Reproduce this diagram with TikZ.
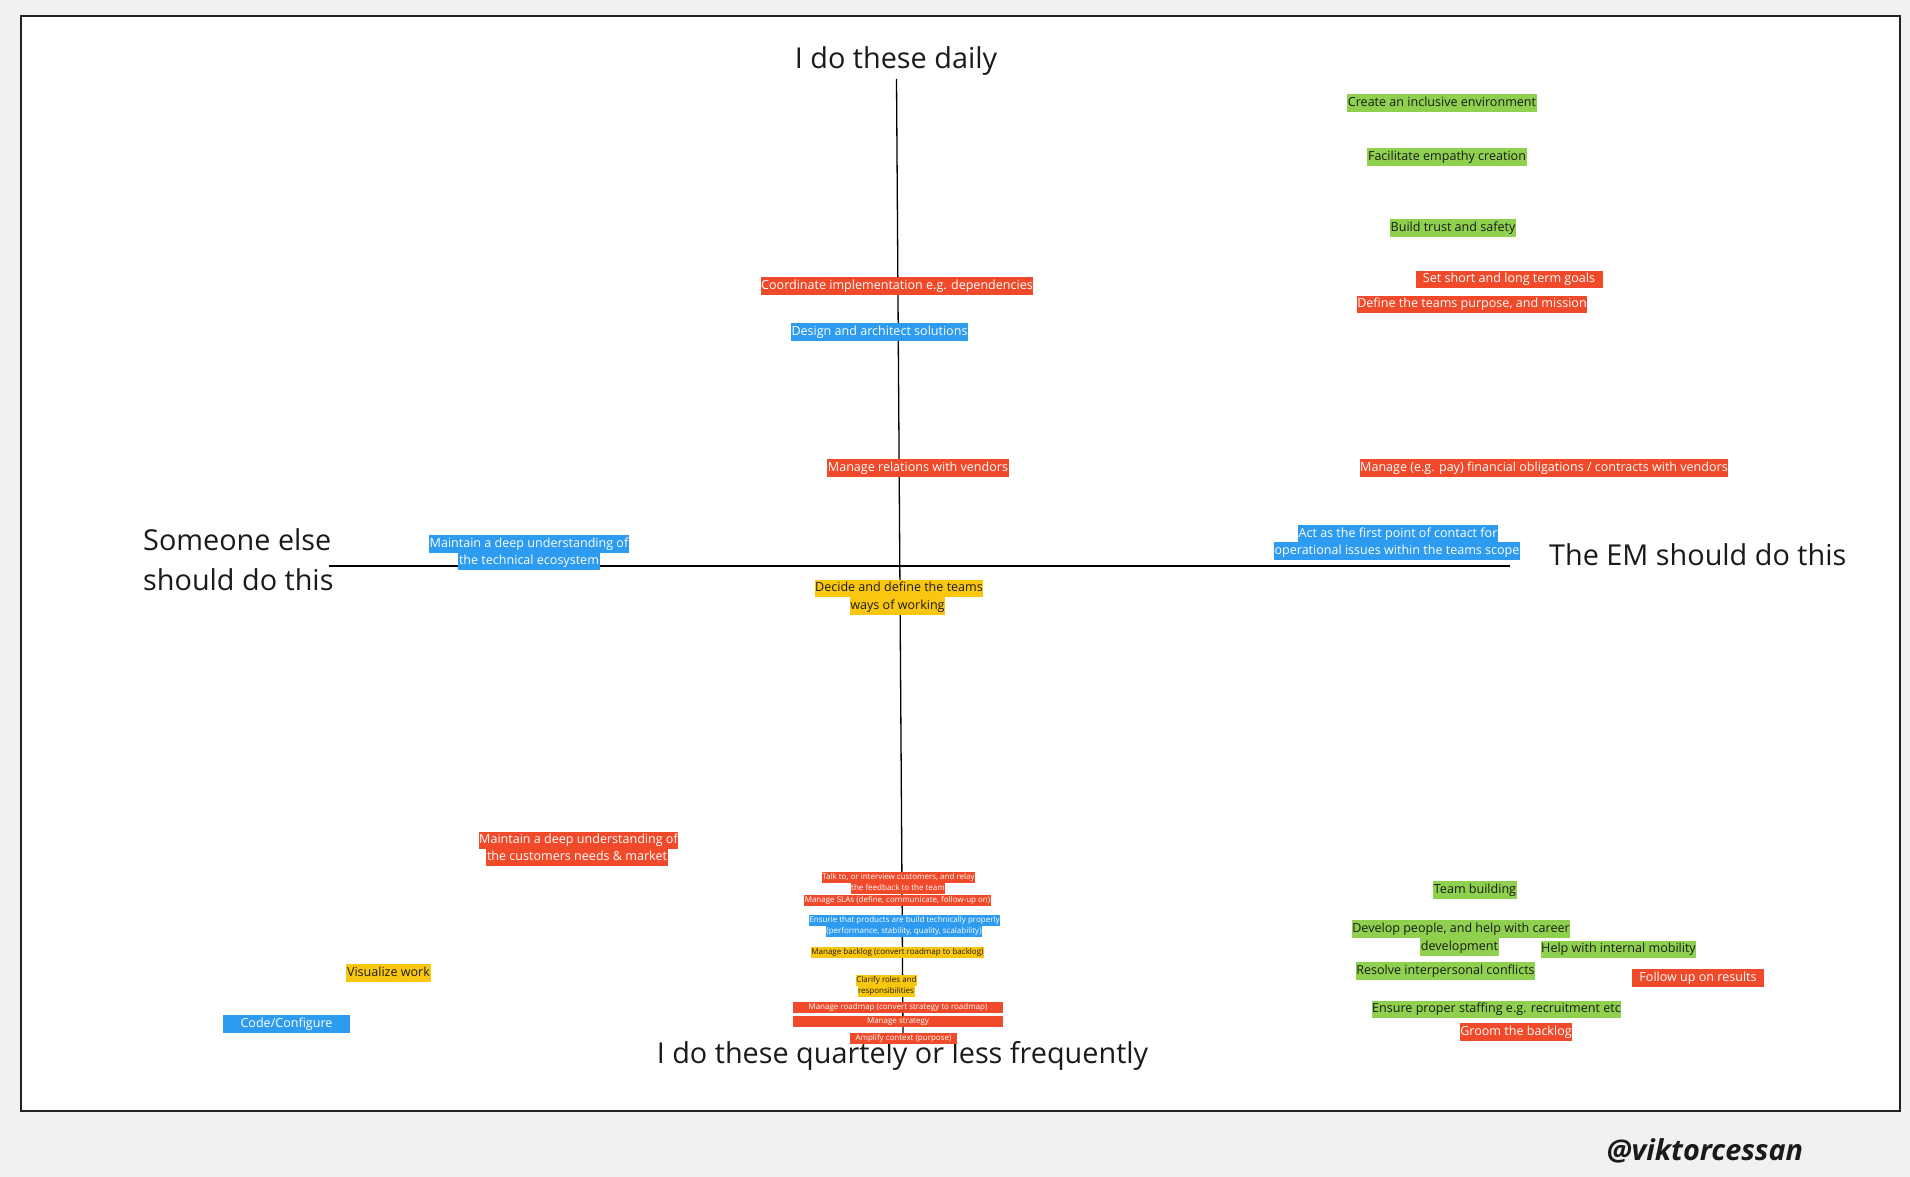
\documentclass[tikz,border=0pt]{standalone}
\usepackage{fontspec}
\setmainfont{Open Sans}
\definecolor{bgc}{HTML}{F1F1F1}
\definecolor{framec}{HTML}{222222}
\definecolor{mred}{HTML}{F04A2A}
\definecolor{mgreen}{HTML}{8FD14F}
\definecolor{mblue}{HTML}{2D9BF0}
\definecolor{myellow}{HTML}{FAC710}
\definecolor{dtext}{HTML}{1A1A1A}
\newcommand{\lblfont}{\fontsize{12.55}{17}\selectfont}
\newcommand{\smlfont}{\fontsize{8}{11}\selectfont}
\newcommand{\axfont}{\fontsize{28.8}{34}\selectfont}
\tikzset{
  lbl/.style={inner xsep=0.6pt, inner ysep=0pt, text height=9.7pt, text depth=3.2pt, minimum height=17.5pt, font=\lblfont},
  sml/.style={inner xsep=0.5pt, inner ysep=0pt, text height=6.3pt, text depth=2pt, minimum height=11pt, font=\smlfont},
  redc/.style={fill=mred, text=white},
  greenc/.style={fill=mgreen, text=dtext},
  bluec/.style={fill=mblue, text=white},
  yellowc/.style={fill=myellow, text=dtext},
  axlbl/.style={font=\axfont, text=dtext, inner sep=0pt},
  axis/.style={draw=black, line width=1.3pt}
}
\begin{document}
\begin{tikzpicture}[x=1pt,y=-1pt]
\fill[bgc] (0,0) rectangle (1910,1177);
\useasboundingbox (0,0) rectangle (1910,1177);
\draw[fill=white, draw=framec, line width=2.6pt] (21,16) rectangle (1900,1111);

% axes
\coordinate (vtop) at (896.5,79);
\coordinate (vbot) at (903,1035);
\coordinate (hleft) at (329,566);
\coordinate (hright) at (1510,566);
\draw[axis] (vtop) -- (vbot);
\draw[axis] (hleft) -- (hright);

% axis labels
\node[axlbl] (daily) at (896,61) {I do these daily};
\node[axlbl, align=left, anchor=west] (else) at (143,560) {Someone else\\[6pt]should do this};
\node[axlbl, anchor=west] (em) at (1549,555) {The EM should do this};
\node[axlbl] (quart) at (902.5,1056) {I do these quartely or less frequently};

% green
\node[lbl,greenc] (inc) at (1442,103) {Create an inclusive environment};
\node[lbl,greenc] (emp) at (1447,157) {Facilitate empathy creation};
\node[lbl,greenc] (trust) at (1453,228) {Build trust and safety};
\node[lbl,greenc] (teamb) at (1475,890) {Team building};
\node[lbl,greenc] (dev1) at (1461,929) {Develop people, and help with career};
\node[lbl,greenc] (dev2) at (1459.5,947) {development};
\node[lbl,greenc] (mob) at (1618.5,949.5) {Help with internal mobility};
\node[lbl,greenc] (resolve) at (1445.5,971) {Resolve interpersonal conflicts};
\node[lbl,greenc] (staff) at (1496.5,1009.5) {Ensure proper staffing e.g. recruitment etc};

% red
\node[lbl,redc,minimum width=187pt] (goals) at (1509,279.5) {Set short and long term goals};
\node[lbl,redc] (purpose) at (1472,304.5) {Define the teams purpose, and mission};
\node[lbl,redc] (fin) at (1544,468) {Manage (e.g. pay) financial obligations / contracts with vendors};
\node[lbl,redc] (coord) at (897,286) {Coordinate implementation e.g. dependencies};
\node[lbl,redc] (vendors) at (918,468) {Manage relations with vendors};
\node[lbl,redc] (cust1) at (578.5,840.5) {Maintain a deep understanding of};
\node[lbl,redc] (cust2) at (577,857.5) {the customers needs \& market};
\node[lbl,redc,minimum width=132pt] (follow) at (1698,978) {Follow up on results};
\node[lbl,redc] (groom) at (1516,1032) {Groom the backlog};

% blue
\node[lbl,bluec] (design) at (879.5,332) {Design and architect solutions};
\node[lbl,bluec] (tech1) at (529,544) {Maintain a deep understanding of};
\node[lbl,bluec] (tech2) at (529,561.5) {the technical ecosystem};
\node[lbl,bluec] (act1) at (1398,534) {Act as the first point of contact for};
\node[lbl,bluec] (act2) at (1397,551) {operational issues within the teams scope};
\node[lbl,bluec,minimum width=127pt] (code) at (286.5,1024) {Code/Configure};

% yellow
\node[lbl,yellowc] (decide1) at (899,588.5) {Decide and define the teams};
\node[lbl,yellowc] (decide2) at (897.5,606) {ways of working};
\node[lbl,yellowc] (visual) at (388.5,973) {Visualize work};

% small cluster
\node[sml,redc] (talk1) at (898.5,877.5) {Talk to, or interview customers, and relay};
\node[sml,redc] (talk2) at (898,888.5) {the feedback to the team};
\node[sml,redc] (sla) at (897.5,900.5) {Manage SLAs (define, communicate, follow-up on)};
\node[sml,bluec] (ens1) at (904.5,920.5) {Ensurie that products are build technically properly};
\node[sml,bluec] (ens2) at (904,931.5) {(performance, stability, quality, scalability)};
\node[sml,yellowc] (backlog) at (897.5,952) {Manage backlog (convert roadmap to backlog)};
\node[sml,yellowc] (clar1) at (886.5,980.5) {Clarify roles and};
\node[sml,yellowc] (clar2) at (886,991.5) {responsibilities};
\node[sml,redc,minimum width=210pt] (roadmap) at (898,1007) {Manage roadmap (convert strategy to roadmap)};
\node[sml,redc,minimum width=210pt] (strategy) at (898,1021.5) {Manage strategy};
\node[sml,redc,minimum width=107pt] (amplify) at (903.5,1038.5) {Amplify context (purpose)};

% watermark
\node[font=\fontsize{28.8}{32}\selectfont\bfseries\itshape, text=dtext, inner sep=0pt] (wm) at (1705,1151) {@viktorcessan};
\end{tikzpicture}
\end{document}
